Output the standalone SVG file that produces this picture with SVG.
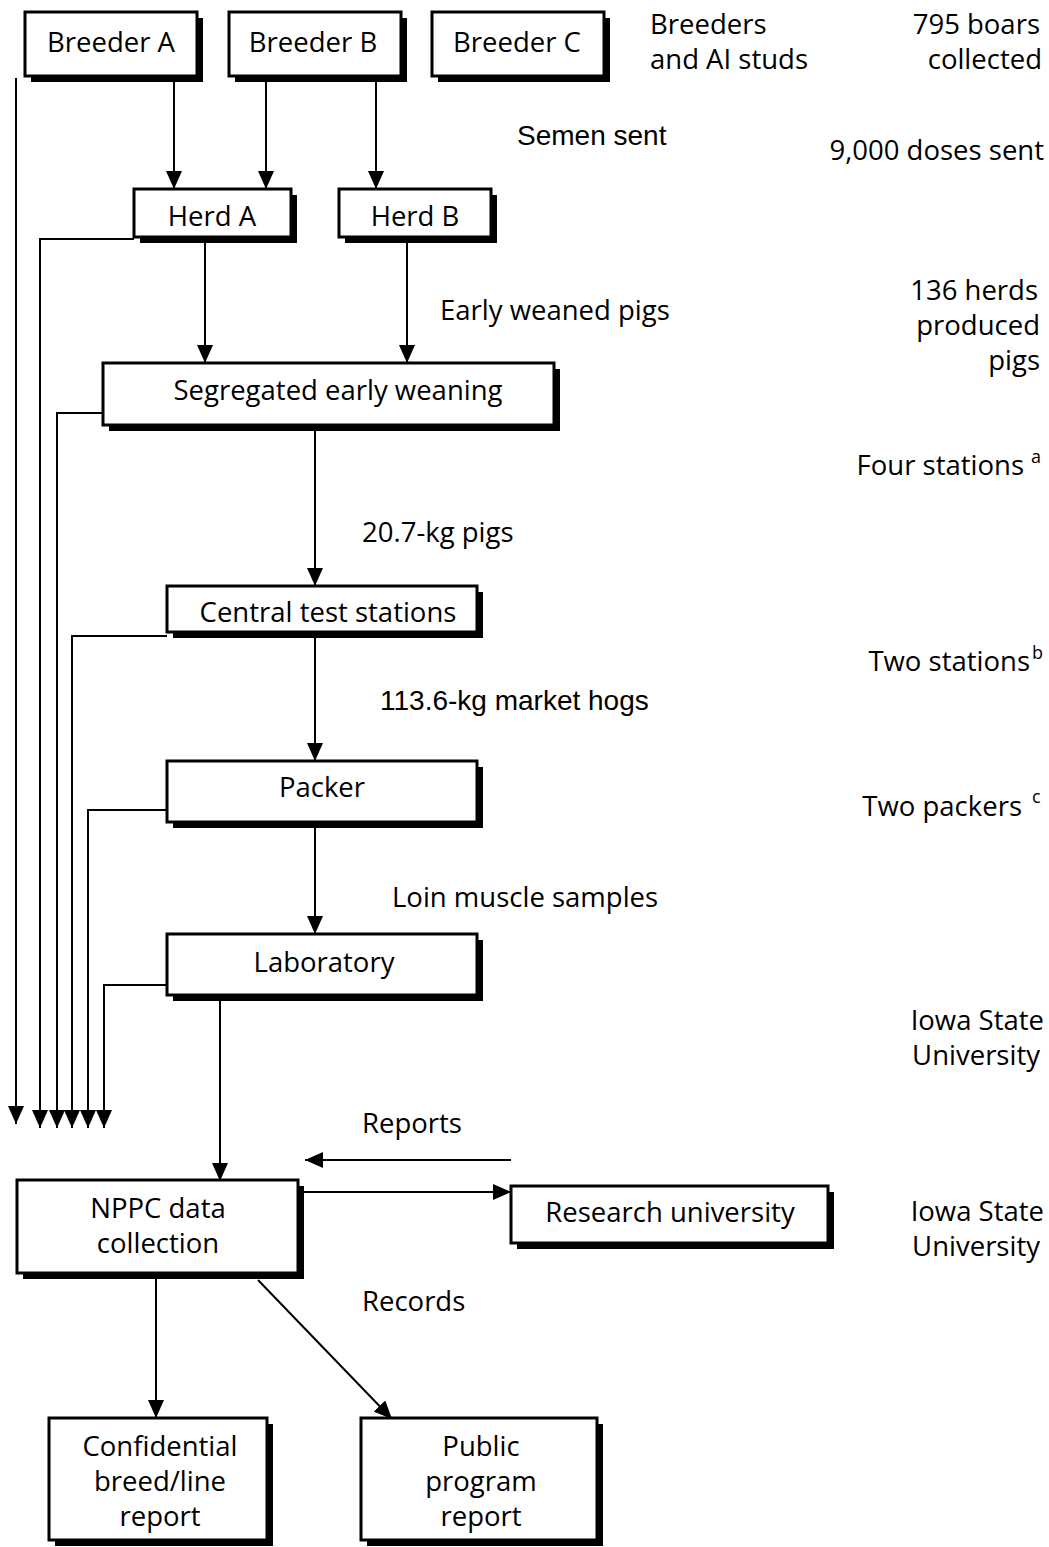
<svg xmlns="http://www.w3.org/2000/svg" width="1049" height="1547" viewBox="0 0 1049 1547">
<defs>
<style>
.box{fill:#fff;stroke:#000;stroke-width:3}
.sh{fill:#000}
.t{font-family:"Open Sans","Noto Sans",sans-serif;font-size:27.5px;fill:#000}
.a{font-family:"Liberation Sans",Arial,sans-serif;font-size:28px;fill:#000}
.c{text-anchor:middle}
.e{text-anchor:end}
.sup{font-family:"Open Sans","Noto Sans",sans-serif;font-size:18px;fill:#000}
.ln{fill:none;stroke:#000;stroke-width:2}
</style>
<marker id="arr" viewBox="0 0 18 16" refX="18" refY="8" markerWidth="18" markerHeight="16" markerUnits="userSpaceOnUse" orient="auto">
<path d="M0,0 L18,8 L0,16 Z" fill="#000"/>
</marker>
</defs>
<rect width="1049" height="1547" fill="#fff"/>

<g id="connectors">
<path class="ln" d="M174,80 V189" marker-end="url(#arr)"/>
<path class="ln" d="M266,80 V189" marker-end="url(#arr)"/>
<path class="ln" d="M376,80 V189" marker-end="url(#arr)"/>
<path class="ln" d="M16,78 V1124" marker-end="url(#arr)"/>
<path class="ln" d="M134,239 H40 V1128" marker-end="url(#arr)"/>
<path class="ln" d="M205,241 V363" marker-end="url(#arr)"/>
<path class="ln" d="M407,241 V363" marker-end="url(#arr)"/>
<path class="ln" d="M103,413 H57 V1128" marker-end="url(#arr)"/>
<path class="ln" d="M315,429 V586" marker-end="url(#arr)"/>
<path class="ln" d="M167,636 H72 V1128" marker-end="url(#arr)"/>
<path class="ln" d="M315,637 V761" marker-end="url(#arr)"/>
<path class="ln" d="M167,810 H88 V1128" marker-end="url(#arr)"/>
<path class="ln" d="M315,827 V934" marker-end="url(#arr)"/>
<path class="ln" d="M167,985 H104 V1128" marker-end="url(#arr)"/>
<path class="ln" d="M220,1000 V1181" marker-end="url(#arr)"/>
<path class="ln" d="M511,1160 H305" marker-end="url(#arr)"/>
<path class="ln" d="M304,1192 H511" marker-end="url(#arr)"/>
<path class="ln" d="M156,1278 V1418" marker-end="url(#arr)"/>
<path class="ln" d="M258,1280 L392,1419" marker-end="url(#arr)"/>
</g>

<g id="breederA"><rect class="sh" x="31" y="18" width="172" height="64"/><rect class="box" x="25" y="12" width="172" height="64"/><text class="t c" x="111" y="52">Breeder A</text></g>
<g id="breederB"><rect class="sh" x="235" y="18" width="172" height="64"/><rect class="box" x="229" y="12" width="172" height="64"/><text class="t c" x="313" y="52">Breeder B</text></g>
<g id="breederC"><rect class="sh" x="438" y="18" width="172" height="64"/><rect class="box" x="432" y="12" width="172" height="64"/><text class="t c" x="517" y="52">Breeder C</text></g>
<g id="herdA"><rect class="sh" x="140" y="195" width="157" height="48"/><rect class="box" x="134" y="189" width="157" height="48"/><text class="t c" x="212" y="226">Herd A</text></g>
<g id="herdB"><rect class="sh" x="345" y="195" width="152" height="48"/><rect class="box" x="339" y="189" width="152" height="48"/><text class="t c" x="415" y="226">Herd B</text></g>
<g id="seg"><rect class="sh" x="109" y="369" width="451" height="62"/><rect class="box" x="103" y="363" width="451" height="62"/><text class="t c" x="338" y="400">Segregated early weaning</text></g>
<g id="central"><rect class="sh" x="173" y="592" width="310" height="46"/><rect class="box" x="167" y="586" width="310" height="46"/><text class="t c" x="328" y="622">Central test stations</text></g>
<g id="packer"><rect class="sh" x="173" y="767" width="310" height="61"/><rect class="box" x="167" y="761" width="310" height="61"/><text class="t c" x="322" y="797">Packer</text></g>
<g id="lab"><rect class="sh" x="173" y="940" width="310" height="61"/><rect class="box" x="167" y="934" width="310" height="61"/><text class="t c" x="324" y="972">Laboratory</text></g>
<g id="nppc"><rect class="sh" x="23" y="1186" width="281" height="93"/><rect class="box" x="17" y="1180" width="281" height="93"/><text class="t c" x="158" y="1218">NPPC data</text><text class="t c" x="158" y="1253">collection</text></g>
<g id="research"><rect class="sh" x="517" y="1192" width="317" height="57"/><rect class="box" x="511" y="1186" width="317" height="57"/><text class="t c" x="670" y="1222">Research university</text></g>
<g id="confidential"><rect class="sh" x="55" y="1424" width="218" height="122"/><rect class="box" x="49" y="1418" width="218" height="122"/><text class="t c" x="160" y="1456">Confidential</text><text class="t c" x="160" y="1491">breed/line</text><text class="t c" x="160" y="1526">report</text></g>
<g id="public"><rect class="sh" x="367" y="1424" width="236" height="122"/><rect class="box" x="361" y="1418" width="236" height="122"/><text class="t c" x="481" y="1456">Public</text><text class="t c" x="481" y="1491">program</text><text class="t c" x="481" y="1526">report</text></g>

<g id="labels">
<text class="t" x="650" y="34">Breeders</text>
<text class="t" x="650" y="69">and AI studs</text>
<text class="t e" x="1040" y="34">795 boars</text>
<text class="t e" x="1042" y="69">collected</text>
<text class="a" x="517" y="145">Semen sent</text>
<text class="t e" x="1044" y="160">9,000 doses sent</text>
<text class="t" x="440" y="320">Early weaned pigs</text>
<text class="t e" x="1038" y="300">136 herds</text>
<text class="t e" x="1040" y="335">produced</text>
<text class="t e" x="1040" y="370">pigs</text>
<text class="t e" x="1024" y="475">Four stations</text><text class="sup" x="1031" y="463">a</text>
<text class="t" x="362" y="542">20.7-kg pigs</text>
<text class="t e" x="1030" y="671">Two stations</text><text class="sup" x="1032" y="659">b</text>
<text class="a" x="380" y="710">113.6-kg market hogs</text>
<text class="t e" x="1022" y="816">Two packers</text><text class="sup" x="1032" y="803">c</text>
<text class="t" x="392" y="907">Loin muscle samples</text>
<text class="t e" x="1044" y="1030">Iowa State</text>
<text class="t e" x="1040" y="1065">University</text>
<text class="t" x="362" y="1133">Reports</text>
<text class="t e" x="1044" y="1221">Iowa State</text>
<text class="t e" x="1040" y="1256">University</text>
<text class="t" x="362" y="1311">Records</text>
</g>
</svg>
